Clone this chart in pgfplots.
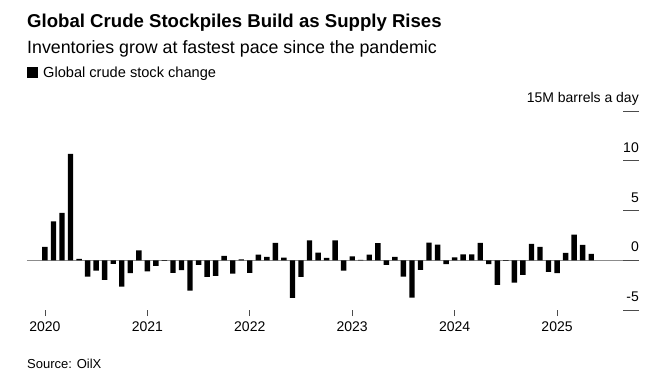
\documentclass[border=0pt]{standalone}
\usepackage{fontspec}
\setmainfont{Liberation Sans}
\usepackage{pgfplots}
\pgfplotsset{compat=1.18}
\begin{document}
\begin{tikzpicture}[x=1pt,y=1pt]
\path[use as bounding box] (0,0) rectangle (667,-378);
\node[anchor=base west, inner sep=0pt, font=\fontsize{18.6}{21}\selectfont\bfseries] at (27,-27.5) {Global Crude Stockpiles Build as Supply Rises};
\node[anchor=base west, inner sep=0pt, font=\fontsize{17.8}{20}\selectfont] at (27,-53.5) {Inventories grow at fastest pace since the pandemic};
\fill[black] (27,-78) rectangle (38,-67);
\node[anchor=base west, inner sep=0pt, font=\fontsize{14.6}{17}\selectfont] at (43,-77.5) {Global crude stock change};
\node[anchor=base west, inner sep=0pt, font=\fontsize{13}{16}\selectfont] at (27,-368) {Source: OilX};
\begin{axis}[at={(27pt,-310pt)}, anchor=south west, scale only axis,
  width=612pt, height=199pt, xmin=-2.1, xmax=69.6, ymin=-5, ymax=15,
  axis line style={draw=none},
  ytick=\empty,
  xtick={0,12,24,36,48,60}, xticklabels={2020,2021,2022,2023,2024,2025},
  xtick pos=bottom, tick align=outside, major tick length=6pt,
  xtick style={black!70, line width=0.8pt},
  xticklabel style={font=\fontsize{14}{16}\selectfont, inner sep=0pt, yshift=-6pt},
  clip=false]
\draw[black!45, line width=0.9pt] (axis cs:-2.1,0) -- (axis cs:69.6,0);
\addplot[ybar, bar width=5.4pt, bar shift=0pt, fill=black, draw=none] coordinates {
(0,1.35) (1,3.9) (2,4.75) (3,10.7) (4,0.15) (5,-1.65) (6,-1.05) (7,-1.97) (8,-0.37) (9,-2.65) (10,-1.3) (11,1.0)
(12,-1.13) (13,-0.57) (14,-0.05) (15,-1.27) (16,-1.0) (17,-3.05) (18,-0.47) (19,-1.67) (20,-1.57) (21,0.44) (22,-1.34) (23,0.1)
(24,-1.27) (25,0.57) (26,0.33) (27,1.75) (28,0.27) (29,-3.78) (30,-1.67) (31,2.0) (32,0.77) (33,0.23) (34,2.0) (35,-1.04)
(36,0.4) (37,0.05) (38,0.57) (39,1.71) (40,-0.47) (41,0.33) (42,-1.64) (43,-3.75) (44,-0.97) (45,1.78) (46,1.58) (47,-0.4)
(48,0.3) (49,0.6) (50,0.6) (51,1.75) (52,-0.4) (53,-2.47) (54,-0.05) (55,-2.24) (56,-1.47) (57,1.65) (58,1.35) (59,-1.17)
(60,-1.3) (61,0.74) (62,2.58) (63,1.55) (64,0.64)
};
\end{axis}
\begin{axis}[at={(27pt,-310pt)}, anchor=south west, scale only axis,
  width=612pt, height=199pt, xmin=-2.1, xmax=69.6, ymin=-5, ymax=15,
  axis line style={draw=none}, xtick=\empty,
  ytick={-5,0,5,10,15}, yticklabels={-5,0,5,10,15M barrels a day},
  ytick pos=right, tick align=inside, major tick length=16pt,
  ytick style={black!70, line width=0.8pt},
  yticklabel style={font=\fontsize{14}{16}\selectfont, anchor=base east, inner sep=0pt, yshift=8.5pt},
  clip=false]
\end{axis}
\end{tikzpicture}
\end{document}
